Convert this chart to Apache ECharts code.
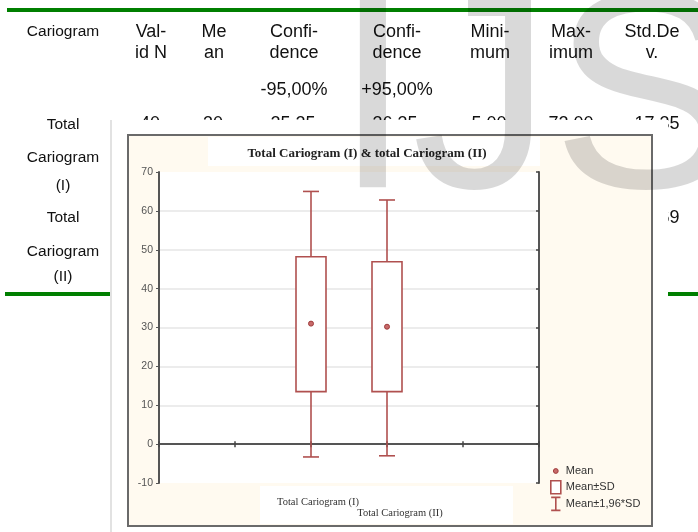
<!DOCTYPE html>
<html><head><meta charset="utf-8">
<script src="https://cdn.jsdelivr.net/npm/echarts@6/dist/echarts.min.js"></script>
<style>html,body{margin:0;padding:0;background:#fff;}#c{width:698px;height:532px;}</style>
</head><body><div id="c"></div>
<script>
// ---- table content ----
const tableHeaders = [['Cariogram'], ['Val-', 'id N'], ['Me', 'an'], ['Confi-', 'dence', '-95,00%'], ['Confi-', 'dence', '+95,00%'], ['Mini-', 'mum'], ['Max-', 'imum'], ['Std.De', 'v.']];
const row1Values = ['40', '30', '25.25', '36.35', '5.00', '72.00', '17.35'];
const row2Values = ['40', '30', '24.86', '35.54', '6.00', '66.00', '16.69'];
const rowLabels = ['Total', 'Cariogram', '(I)', 'Total', 'Cariogram', '(II)'];
// ---- chart data ----
const chartTitle = 'Total Cariogram (I) & total Cariogram (II)';
const categories = ['', '', 'Total Cariogram (I)', 'Total Cariogram (II)', '', ''];
const groups = ['Total Cariogram (I)', 'Total Cariogram (II)'];
const means = [31.0, 30.2];
const sdLow = [13.5, 13.5];
const sdHigh = [48.2, 46.9];
const ciLow = [-3.3, -3.0];
const ciHigh = [65.0, 62.8];
const yMin = -10, yMax = 70, yStep = 10;
const legendNames = ['Mean', 'Mean±SD', 'Mean±1,96*SD'];
const watermark = 'IJS';

const RED = '#b0504f';
const chart = echarts.init(document.getElementById('c'));

// layout for the table text
const colX = [63, 151, 214, 294, 397, 490, 571, 652];
const headY = [32, 53, 90];
const valX = [150, 213, 293, 395, 489, 571, 657];
const labelY = [125, 158, 186, 218, 252, 277];
const SANS = '"Liberation Sans", Arial, sans-serif';

const g = [];
g.push({type: 'rect', z: -10, shape: {x: 7, y: 8, width: 691, height: 4}, style: {fill: '#007f00'}});
g.push({type: 'rect', z: -10, shape: {x: 5, y: 292, width: 693, height: 4}, style: {fill: '#007f00'}});
tableHeaders.forEach((lines, c) => {
  lines.forEach((t, r) => {
    g.push({type: 'text', z: -10, style: {text: t, x: colX[c], y: headY[r], textAlign: 'center', textVerticalAlign: 'middle',
      font: (c === 0 ? '15.5px ' : '18px ') + SANS, fill: '#111'}});
  });
});
row1Values.forEach((t, c) => g.push({type: 'text', z: -10, style: {text: t, x: valX[c], y: 124, textAlign: 'center', textVerticalAlign: 'middle', font: '18px ' + SANS, fill: '#111'}}));
row2Values.forEach((t, c) => g.push({type: 'text', z: -10, style: {text: t, x: valX[c], y: 218, textAlign: 'center', textVerticalAlign: 'middle', font: '18px ' + SANS, fill: '#111'}}));
rowLabels.forEach((t, i) => g.push({type: 'text', z: -10, style: {text: t, x: 63, y: labelY[i], textAlign: 'center', textVerticalAlign: 'middle', font: '15.5px ' + SANS, fill: '#111'}}));
// picture background and frame
g.push({type: 'rect', z: -9, shape: {x: 110, y: 120, width: 558, height: 412}, style: {fill: '#fff'}});
g.push({type: 'rect', z: -9, shape: {x: 110, y: 120, width: 2, height: 412}, style: {fill: '#e2e2e2'}});
g.push({type: 'rect', z: -8, shape: {x: 128, y: 135, width: 524, height: 391}, style: {fill: '#fffaf0', stroke: '#6a6a6a', lineWidth: 2}});
g.push({type: 'rect', z: -7, shape: {x: 208, y: 137, width: 332, height: 29}, style: {fill: '#fff'}});
g.push({type: 'rect', z: -7, shape: {x: 260, y: 486, width: 253, height: 38}, style: {fill: '#fff'}});
// watermark
g.push({type: 'text', z: 100, style: {text: watermark, x: 334, y: 110, textAlign: 'left', textVerticalAlign: 'middle', font: '280px ' + SANS, fill: 'rgba(0,0,0,0.15)'}});

const whiskerData = groups.map((c, i) => [i + 2, sdLow[i], sdHigh[i], ciLow[i], ciHigh[i]]);
const meanData = groups.map((c, i) => [i + 2, means[i]]);

chart.setOption({
  animation: false,
  title: {text: chartTitle, left: 362, top: 142, textAlign: 'center',
    textStyle: {fontFamily: '"Liberation Serif", "Times New Roman", serif', fontWeight: 'bold', fontSize: 13, color: '#222'}},
  legend: {
    orient: 'vertical', left: 545, top: 459, itemWidth: 10, itemHeight: 13, itemGap: 2,
    textStyle: {fontFamily: SANS, fontSize: 11, color: '#333'},
    data: [
      {name: legendNames[0], icon: 'path://M0,0M10,13M2.6,6.5a2.4,2.4 0 1,0 4.8,0a2.4,2.4 0 1,0 -4.8,0z', itemStyle: {color: '#c76a6a', borderColor: '#a03c3c', borderWidth: 1}},
      {name: legendNames[1], icon: 'rect', itemStyle: {color: '#fff', borderColor: RED, borderWidth: 1.6}},
      {name: legendNames[2], icon: 'path://M0,0L10,0M5,0L5,14M0,14L10,14', itemStyle: {color: 'transparent', borderColor: RED, borderWidth: 1.6}}
    ]
  },
  graphic: {elements: g},
  grid: {left: 159, top: 172, width: 380, height: 311, show: true, backgroundColor: '#fff', borderWidth: 0},
  xAxis: [{
    type: 'category', data: categories, boundaryGap: false, position: 'bottom',
    axisLine: {show: true, lineStyle: {color: '#555', width: 2}},
    axisTick: {show: true, inside: true, length: 3, interval: 0, lineStyle: {color: '#444', width: 1.5}},
    axisLabel: {interval: 0, margin: 14, color: '#333', fontFamily: '"Liberation Serif", serif', fontSize: 10.5,
      formatter: (v, i) => v === '' ? '' : (i === 2 ? '{a|' + v + '}' : '{b|' + v + '}'),
      rich: {a: {padding: [0, 0, 0, 14], fontFamily: '"Liberation Serif", serif', fontSize: 10.5, color: '#333'},
             b: {padding: [11, 0, 0, 26], fontFamily: '"Liberation Serif", serif', fontSize: 10.5, color: '#333'}}},
    splitLine: {show: false}
  }, {
    type: 'category', data: categories, boundaryGap: false, position: 'top',
    axisLine: {show: true, lineStyle: {color: '#555', width: 2}},
    axisTick: {show: true, inside: true, length: 3, interval: 0, lineStyle: {color: '#444', width: 1.5}},
    axisLabel: {show: false}, splitLine: {show: false}
  }],
  yAxis: [{
    type: 'value', min: yMin, max: yMax, interval: yStep, position: 'left',
    axisLine: {show: true, lineStyle: {color: '#555', width: 2}},
    axisTick: {show: true, length: 3, lineStyle: {color: '#555'}},
    axisLabel: {margin: 6, color: '#555', fontFamily: SANS, fontSize: 10.5},
    splitLine: {show: true, showMinLine: false, showMaxLine: false, lineStyle: {color: '#e6e6e6', width: 1.5}}
  }, {
    type: 'value', min: yMin, max: yMax, interval: yStep, position: 'right',
    axisLine: {show: true, lineStyle: {color: '#555', width: 2}},
    axisTick: {show: true, inside: true, length: 3, lineStyle: {color: '#444', width: 1.5}},
    axisLabel: {show: false}, splitLine: {show: false}
  }],
  series: [{
    name: legendNames[2], type: 'custom', xAxisIndex: 0, yAxisIndex: 0, data: whiskerData,
    encode: {x: 0, y: [1, 2, 3, 4]}, z: 3,
    renderItem: (params, api) => {
      const x = api.value(0);
      const pSL = api.coord([x, api.value(1)]);
      const pSH = api.coord([x, api.value(2)]);
      const pCL = api.coord([x, api.value(3)]);
      const pCH = api.coord([x, api.value(4)]);
      const cap = 8;
      const st = {stroke: RED, lineWidth: 1.6, fill: null};
      return {type: 'group', children: [
        {type: 'line', shape: {x1: pSH[0], y1: pSH[1], x2: pCH[0], y2: pCH[1]}, style: st},
        {type: 'line', shape: {x1: pCH[0] - cap, y1: pCH[1], x2: pCH[0] + cap, y2: pCH[1]}, style: st},
        {type: 'line', shape: {x1: pSL[0], y1: pSL[1], x2: pCL[0], y2: pCL[1]}, style: st},
        {type: 'line', shape: {x1: pCL[0] - cap, y1: pCL[1], x2: pCL[0] + cap, y2: pCL[1]}, style: st}
      ]};
    }
  }, {
    name: legendNames[1], type: 'custom', xAxisIndex: 0, yAxisIndex: 0, data: whiskerData,
    encode: {x: 0, y: [1, 2]}, z: 3,
    renderItem: (params, api) => {
      const x = api.value(0);
      const pSL = api.coord([x, api.value(1)]);
      const pSH = api.coord([x, api.value(2)]);
      const hw = 15;
      return {type: 'rect', shape: {x: pSH[0] - hw, y: pSH[1], width: hw * 2, height: pSL[1] - pSH[1]},
        style: {stroke: RED, lineWidth: 1.6, fill: '#fff'}};
    }
  }, {
    name: legendNames[0], type: 'scatter', xAxisIndex: 0, yAxisIndex: 0, data: meanData, z: 4,
    symbol: 'circle', symbolSize: 5,
    itemStyle: {color: '#c76a6a', borderColor: '#a03c3c', borderWidth: 1, opacity: 1}
  }]
});
</script></body></html>
